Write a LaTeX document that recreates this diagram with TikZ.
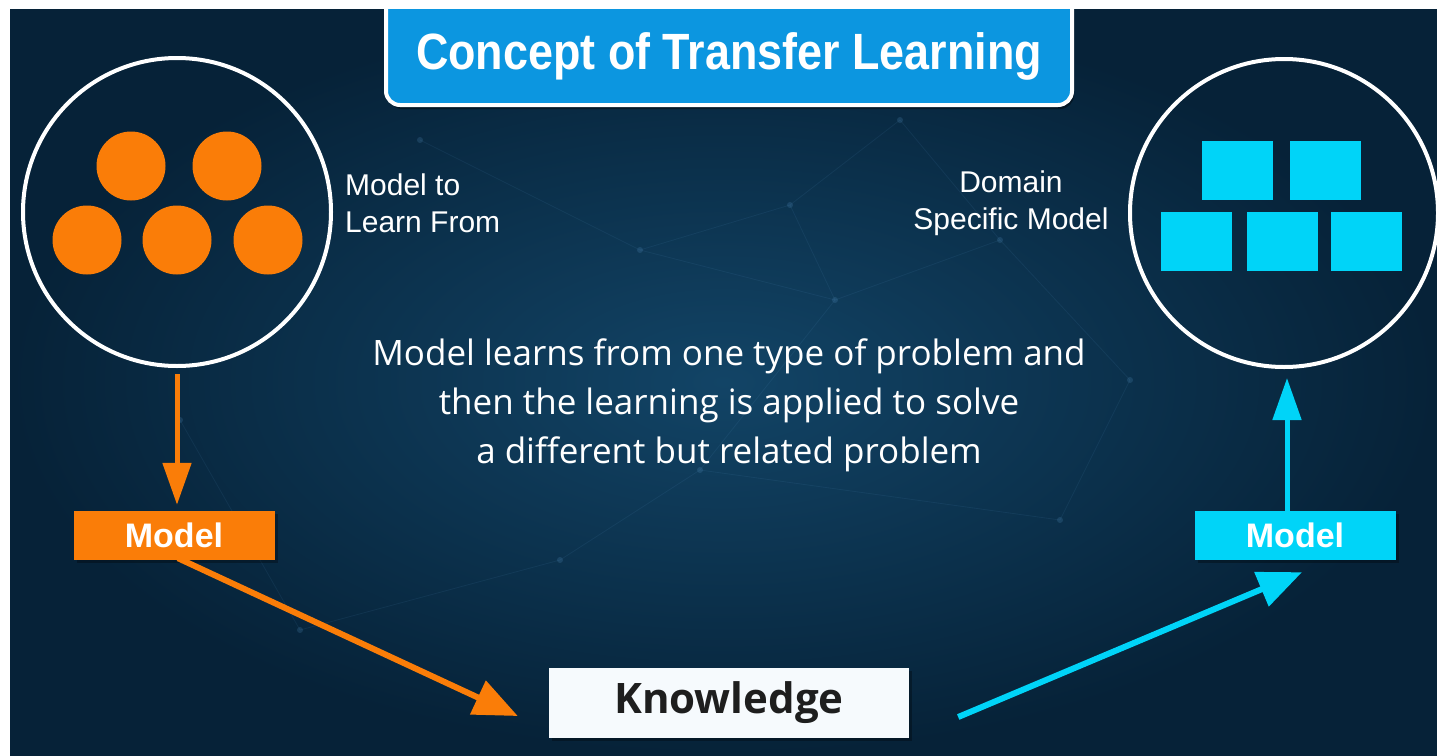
\documentclass[tikz,border=0pt]{standalone}
\usepackage{fontspec}
\setmainfont{Liberation Sans}
\newfontfamily\headfont[FakeStretch=0.88]{Liberation Sans}
\newfontfamily\bodyfont{Open Sans}
\usetikzlibrary{arrows.meta,calc,positioning,shadows}

\definecolor{bgdark}{RGB}{6,34,56}
\definecolor{bglight}{RGB}{18,68,102}
\definecolor{titleblue}{RGB}{12,150,224}
\definecolor{srcorange}{RGB}{250,125,8}
\definecolor{tgtcyan}{RGB}{0,212,248}
\definecolor{knowwhite}{RGB}{246,250,253}
\definecolor{netblue}{RGB}{90,150,200}

\tikzset{
  ring/.style={circle, draw=white, line width=4pt, minimum size=308pt, inner sep=0pt},
  dot/.style={circle, fill=srcorange, minimum size=69pt, inner sep=0pt},
  tile/.style={fill=tgtcyan, minimum width=71pt, minimum height=59pt, inner sep=0pt},
  boxshadow/.style={drop shadow={shadow xshift=3pt, shadow yshift=-3pt, fill=black, opacity=0.3}},
  modelbox/.style={minimum width=201pt, minimum height=49pt, inner sep=0pt, text=white,
    font=\fontsize{34}{34}\selectfont\bfseries, boxshadow},
  sidetext/.style={text=white, align=center, inner sep=0pt,
    font=\fontsize{30}{37}\selectfont},
  netline/.style={netblue, opacity=0.1, line width=0.8pt},
  flow/.style={line width=6pt, -{Triangle[length=44pt, width=36pt]}},
  drop/.style={line width=5pt, -{Triangle[length=42pt, width=28pt]}}
}

\begin{document}
\begin{tikzpicture}[x=1pt, y=-1pt]
\useasboundingbox (0,0) rectangle (1437,755);
% background
\fill[white] (0,0) rectangle (1437,755);
\shade[inner color=bglight, outer color=bgdark] (10,9) rectangle (1437,755);
\foreach \ax/\ay/\bx/\by in {420/140/640/250, 640/250/790/205, 790/205/835/300, 835/300/1000/240,
    640/250/835/300, 835/300/700/470, 700/470/560/560, 560/560/300/630, 1000/240/1130/380,
    700/470/1060/520, 1060/520/1130/380, 900/120/790/205, 900/120/1000/240, 300/630/180/420}
  {\draw[netline] (\ax,\ay) -- (\bx,\by);}
\foreach \ax/\ay in {420/140, 640/250, 790/205, 835/300, 1000/240, 700/470, 560/560, 300/630,
    1130/380, 1060/520, 900/120, 180/420}
  {\fill[netblue, opacity=0.2] (\ax,\ay) circle (3);}

% title
\draw[fill=titleblue, draw=white, line width=4pt, rounded corners=14pt,
  drop shadow={shadow xshift=2pt, shadow yshift=-4pt, fill=black, opacity=0.4}] (386,-30) rectangle (1072,105);
\fill[white] (0,0) rectangle (1437,9);
\fill[white] (0,0) rectangle (10,755);
\node[text=white, font=\headfont\fontsize{51}{51}\selectfont\bfseries] (title) at (729,56)
  {Concept of Transfer Learning};

% source model
\node[ring] (src) at (177,212) {};
\foreach \i/\x/\y in {1/131/166, 2/227/166, 3/87/240, 4/177/240, 5/268/240}
  \node[dot] (d\i) at (\x,\y) {};
\node[sidetext, align=left, anchor=west] (srclabel) at (345,203) {Model to\\Learn From};

% target model
\node[ring] (tgt) at (1284,213) {};
\foreach \i/\x/\y in {1/1237.5/170.5, 2/1325.5/170.5, 3/1196.5/241.5, 4/1282/241.5, 5/1366.5/241.5}
  \node[tile] (t\i) at (\x,\y) {};
\node[sidetext] (tgtlabel) at (1011,203) {Domain\\Specific Model};

% middle text
\node[text=white, align=center, font=\bodyfont\fontsize{35}{49}\selectfont] (idea) at (729,405)
  {Model learns from one type of problem and\\then the learning is applied to solve\\a different but related problem};

% models and knowledge
\node[modelbox, fill=srcorange] (srcmodel) at (174,535.5) {Model};
\node[modelbox, fill=tgtcyan] (tgtmodel) at (1295,535.5) {Model};
\node[fill=knowwhite, minimum width=360pt, minimum height=70pt, inner sep=0pt, text={rgb,255:red,30;green,30;blue,30},
  font=\bodyfont\fontsize{42}{42}\selectfont\bfseries, boxshadow] (know) at (729,703) {Knowledge};

% arrows
\draw[drop, srcorange] ($(src.south)+(0,6)$) -- ($(src.south |- srcmodel.north)+(0,-6)$);
\draw[flow, srcorange] ($(srcmodel.south)+(4,-2)$) -- ($(know.west)+(-31,13)$);
\draw[flow, tgtcyan] ($(know.east)+(49,14)$) -- ($(tgtmodel.south)+(7,12)$);
\draw[drop, tgtcyan] ($(tgt.south |- tgtmodel.north)+(3,0)$) -- ($(tgt.south)+(3,9)$);
\end{tikzpicture}
\end{document}
